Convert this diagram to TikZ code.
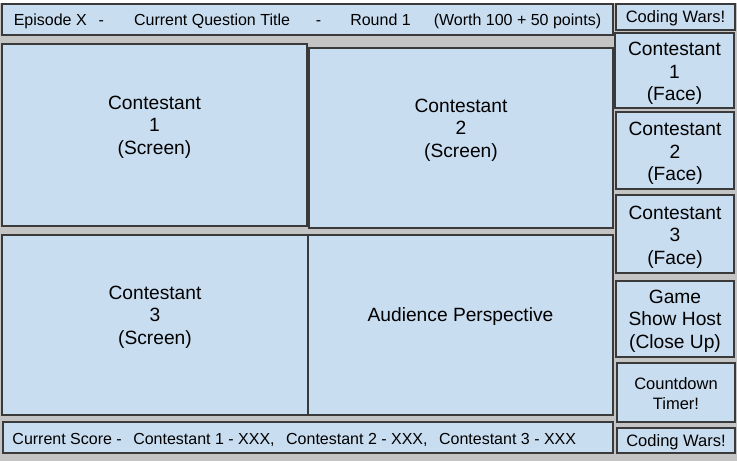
\documentclass[tikz,border=0pt]{standalone}
\usepackage{fontspec}
\setmainfont{Liberation Sans}
\usetikzlibrary{positioning}
\definecolor{panelfill}{RGB}{201,221,240}
\definecolor{panelline}{RGB}{58,58,58}
\definecolor{backgray}{RGB}{196,196,196}

\begin{document}
\begin{tikzpicture}[
    x=1pt, y=-1pt,
    panel/.style={draw=panelline, line width=1.5pt, fill=panelfill, inner sep=0pt},
    bigtxt/.style={font=\fontsize{19.2}{22.5}\selectfont, align=center},
    smalltxt/.style={font=\fontsize{16.5}{20}\selectfont, align=center},
    bartxt/.style={font=\fontsize{16}{20}\selectfont},
    bar/.style={panel, minimum width=611pt, minimum height=31pt}
]
    \useasboundingbox (0,0) rectangle (737,461);
    \fill[white] (0,0) rectangle (737,3);
    \fill[backgray] (0,3) rectangle (737,461);

    % Title bar and score bar
    \node[bar] (titlebar) at (307.5,19.5) {};
    \node[bar, minimum width=610pt] (scorebar) at (308,437.5) {};
    \node[bartxt, yshift=-2pt] (titletxt) at (titlebar.center)
        {Episode X\hspace{12pt}-\hspace{30pt}Current Question Title\hspace{26pt}-\hspace{29pt}Round 1\hspace{23pt}(Worth 100 + 50 points)};
    \node[bartxt, anchor=west, inner xsep=0pt, yshift=-2pt] (scoretxt) at ([xshift=10pt]scorebar.west)
        {Current Score -\hspace{11.5pt}Contestant 1 - XXX,\hspace{11.5pt}Contestant 2 - XXX,\hspace{11.5pt}Contestant 3 - XXX};

    % Four main screens
    \node[panel, minimum width=305pt, minimum height=182pt] (screenA) at (154.5,135) {};
    \node[panel, minimum width=304pt, minimum height=180pt] (screenB) at (461,138) {};
    \node[panel, minimum width=306pt, minimum height=180pt] (screenC) at (155,325) {};
    \node[panel, minimum width=305pt, minimum height=180pt] (audience) at (460.5,325) {};
    \node[bigtxt, yshift=8pt] (screenAtxt) at (screenA.center) {Contestant\\1\\(Screen)};
    \node[bigtxt, yshift=8pt] (screenBtxt) at (screenB.center) {Contestant\\2\\(Screen)};
    \node[bigtxt, yshift=8pt] (screenCtxt) at (screenC.center) {Contestant\\3\\(Screen)};
    \node[bigtxt, yshift=8pt] (audiencetxt) at (audience.center) {Audience Perspective};

    % Side column
    \node[panel, minimum width=119pt, minimum height=26pt] (logoTop) at (675.5,17) {};
    \node[panel, minimum width=119pt, minimum height=75pt] (faceA) at (674.5,70.5) {};
    \node[panel, minimum width=118pt, minimum height=77pt] (faceB) at (675,150.5) {};
    \node[panel, minimum width=118pt, minimum height=78pt] (faceC) at (675,234) {};
    \node[panel, minimum width=118pt, minimum height=76pt] (host) at (675,319) {};
    \node[panel, minimum width=118pt, minimum height=59pt] (timer) at (676,392.5) {};
    \node[panel, minimum width=118pt, minimum height=25pt] (logoBot) at (676,440.5) {};

    \node[smalltxt, yshift=-1pt] (logoToptxt) at (logoTop.center) {Coding Wars!};
    \node[bigtxt, yshift=-3pt] (faceAtxt) at (faceA.center) {Contestant\\1\\(Face)};
    \node[bigtxt, yshift=-3pt] (faceBtxt) at (faceB.center) {Contestant\\2\\(Face)};
    \node[bigtxt, yshift=-3pt] (faceCtxt) at (faceC.center) {Contestant\\3\\(Face)};
    \node[bigtxt, yshift=-2pt] (hosttxt) at (host.center) {Game\\Show Host\\(Close Up)};
    \node[smalltxt, yshift=-1pt] (timertxt) at (timer.center) {Countdown\\Timer!};
    \node[smalltxt, yshift=-2pt] (logoBottxt) at (logoBot.center) {Coding Wars!};
\end{tikzpicture}
\end{document}
